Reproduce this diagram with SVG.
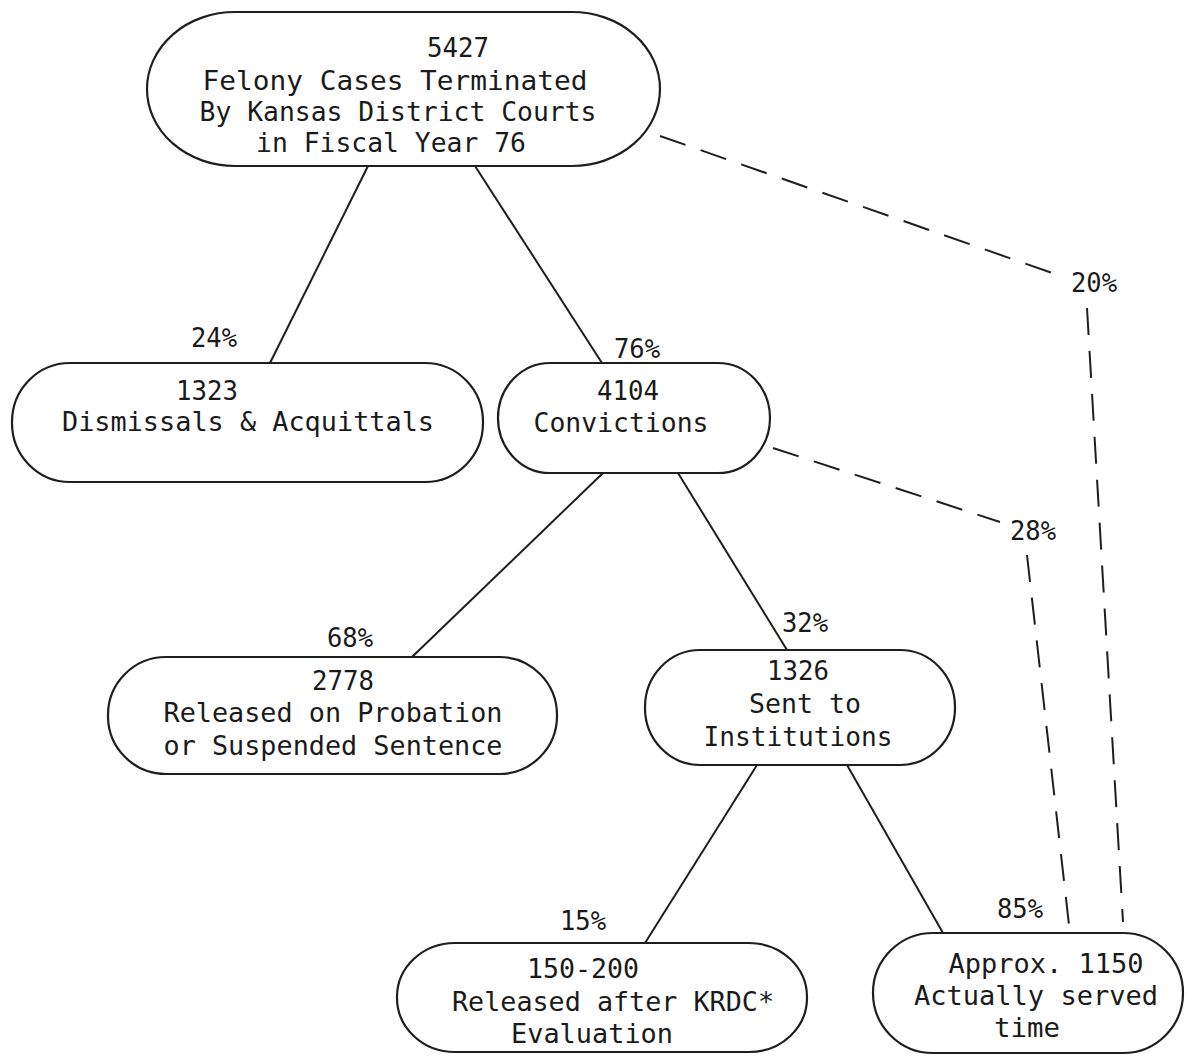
<svg xmlns="http://www.w3.org/2000/svg" width="1186" height="1059" viewBox="0 0 1186 1059">
<style>
.bg{fill:#ffffff}
.box{fill:none;stroke:#1e1e1e;stroke-width:2.2}
.ln{stroke:#1e1e1e;stroke-width:2;fill:none}
.dl{stroke:#1e1e1e;stroke-width:2;fill:none;stroke-dasharray:27 16}
text{font-family:"DejaVu Sans Mono","Liberation Mono",monospace;font-size:27px;fill:#1a1a1a;text-anchor:middle}
</style>
<rect class="bg" x="0" y="0" width="1186" height="1059"/>
<g id="connectors">
<line class="ln" x1="368" y1="166" x2="270" y2="363"/>
<line class="ln" x1="475" y1="166" x2="602" y2="363"/>
<line class="ln" x1="603" y1="473" x2="412" y2="657"/>
<line class="ln" x1="678" y1="473" x2="787" y2="650"/>
<line class="ln" x1="757" y1="765" x2="645" y2="943"/>
<line class="ln" x1="847" y1="765" x2="943" y2="933"/>
<line class="dl" x1="660" y1="136" x2="1058" y2="275"/>
<line class="dl" x1="1087" y1="308" x2="1123" y2="922"/>
<line class="dl" x1="773" y1="448" x2="1000" y2="522"/>
<line class="dl" x1="1027" y1="555" x2="1069" y2="925"/>
<text x="214" y="347" textLength="46" lengthAdjust="spacingAndGlyphs">24%</text>
<text x="637" y="358" textLength="46" lengthAdjust="spacingAndGlyphs">76%</text>
<text x="1094" y="292" textLength="46" lengthAdjust="spacingAndGlyphs">20%</text>
<text x="1033" y="540" textLength="46" lengthAdjust="spacingAndGlyphs">28%</text>
<text x="350" y="647" textLength="46" lengthAdjust="spacingAndGlyphs">68%</text>
<text x="805" y="632" textLength="46" lengthAdjust="spacingAndGlyphs">32%</text>
<text x="583" y="930" textLength="46" lengthAdjust="spacingAndGlyphs">15%</text>
<text x="1020" y="918" textLength="46" lengthAdjust="spacingAndGlyphs">85%</text>
</g>
<g id="n-felony">
<rect class="box" x="147" y="12" width="513" height="154" rx="88" ry="77"/>
<text x="458" y="57" textLength="62" lengthAdjust="spacingAndGlyphs">5427</text>
<text x="395" y="90" textLength="385" lengthAdjust="spacingAndGlyphs">Felony Cases Terminated</text>
<text x="398" y="121" textLength="397" lengthAdjust="spacingAndGlyphs">By Kansas District Courts</text>
<text x="391" y="152" textLength="270" lengthAdjust="spacingAndGlyphs">in Fiscal Year 76</text>
</g>
<g id="n-dismissals">
<rect class="box" x="12" y="363" width="471" height="119" rx="58" ry="59"/>
<text x="207" y="400" textLength="62" lengthAdjust="spacingAndGlyphs">1323</text>
<text x="248" y="431" textLength="372" lengthAdjust="spacingAndGlyphs">Dismissals &amp; Acquittals</text>
</g>
<g id="n-convictions">
<rect class="box" x="498" y="363" width="272" height="110" rx="52" ry="55"/>
<text x="628" y="400" textLength="62" lengthAdjust="spacingAndGlyphs">4104</text>
<text x="621" y="432" textLength="175" lengthAdjust="spacingAndGlyphs">Convictions</text>
</g>
<g id="n-probation">
<rect class="box" x="108" y="657" width="449" height="117" rx="58" ry="58"/>
<text x="343" y="690" textLength="62" lengthAdjust="spacingAndGlyphs">2778</text>
<text x="333" y="722" textLength="339" lengthAdjust="spacingAndGlyphs">Released on Probation</text>
<text x="333" y="755" textLength="339" lengthAdjust="spacingAndGlyphs">or Suspended Sentence</text>
</g>
<g id="n-institutions">
<rect class="box" x="645" y="650" width="310" height="115" rx="55" ry="57"/>
<text x="798" y="680" textLength="62" lengthAdjust="spacingAndGlyphs">1326</text>
<text x="805" y="713" textLength="112" lengthAdjust="spacingAndGlyphs">Sent to</text>
<text x="798" y="746" textLength="189" lengthAdjust="spacingAndGlyphs">Institutions</text>
</g>
<g id="n-krdc">
<rect class="box" x="397" y="943" width="410" height="109" rx="58" ry="54"/>
<text x="583" y="978" textLength="112" lengthAdjust="spacingAndGlyphs">150-200</text>
<text x="613" y="1011" textLength="322" lengthAdjust="spacingAndGlyphs">Released after KRDC*</text>
<text x="592" y="1043" textLength="162" lengthAdjust="spacingAndGlyphs">Evaluation</text>
</g>
<g id="n-served">
<rect class="box" x="873" y="933" width="310" height="120" rx="60" ry="60"/>
<text x="1046" y="973" textLength="195" lengthAdjust="spacingAndGlyphs">Approx. 1150</text>
<text x="1036" y="1005" textLength="244" lengthAdjust="spacingAndGlyphs">Actually served</text>
<text x="1027" y="1037" textLength="66" lengthAdjust="spacingAndGlyphs">time</text>
</g>
</svg>
